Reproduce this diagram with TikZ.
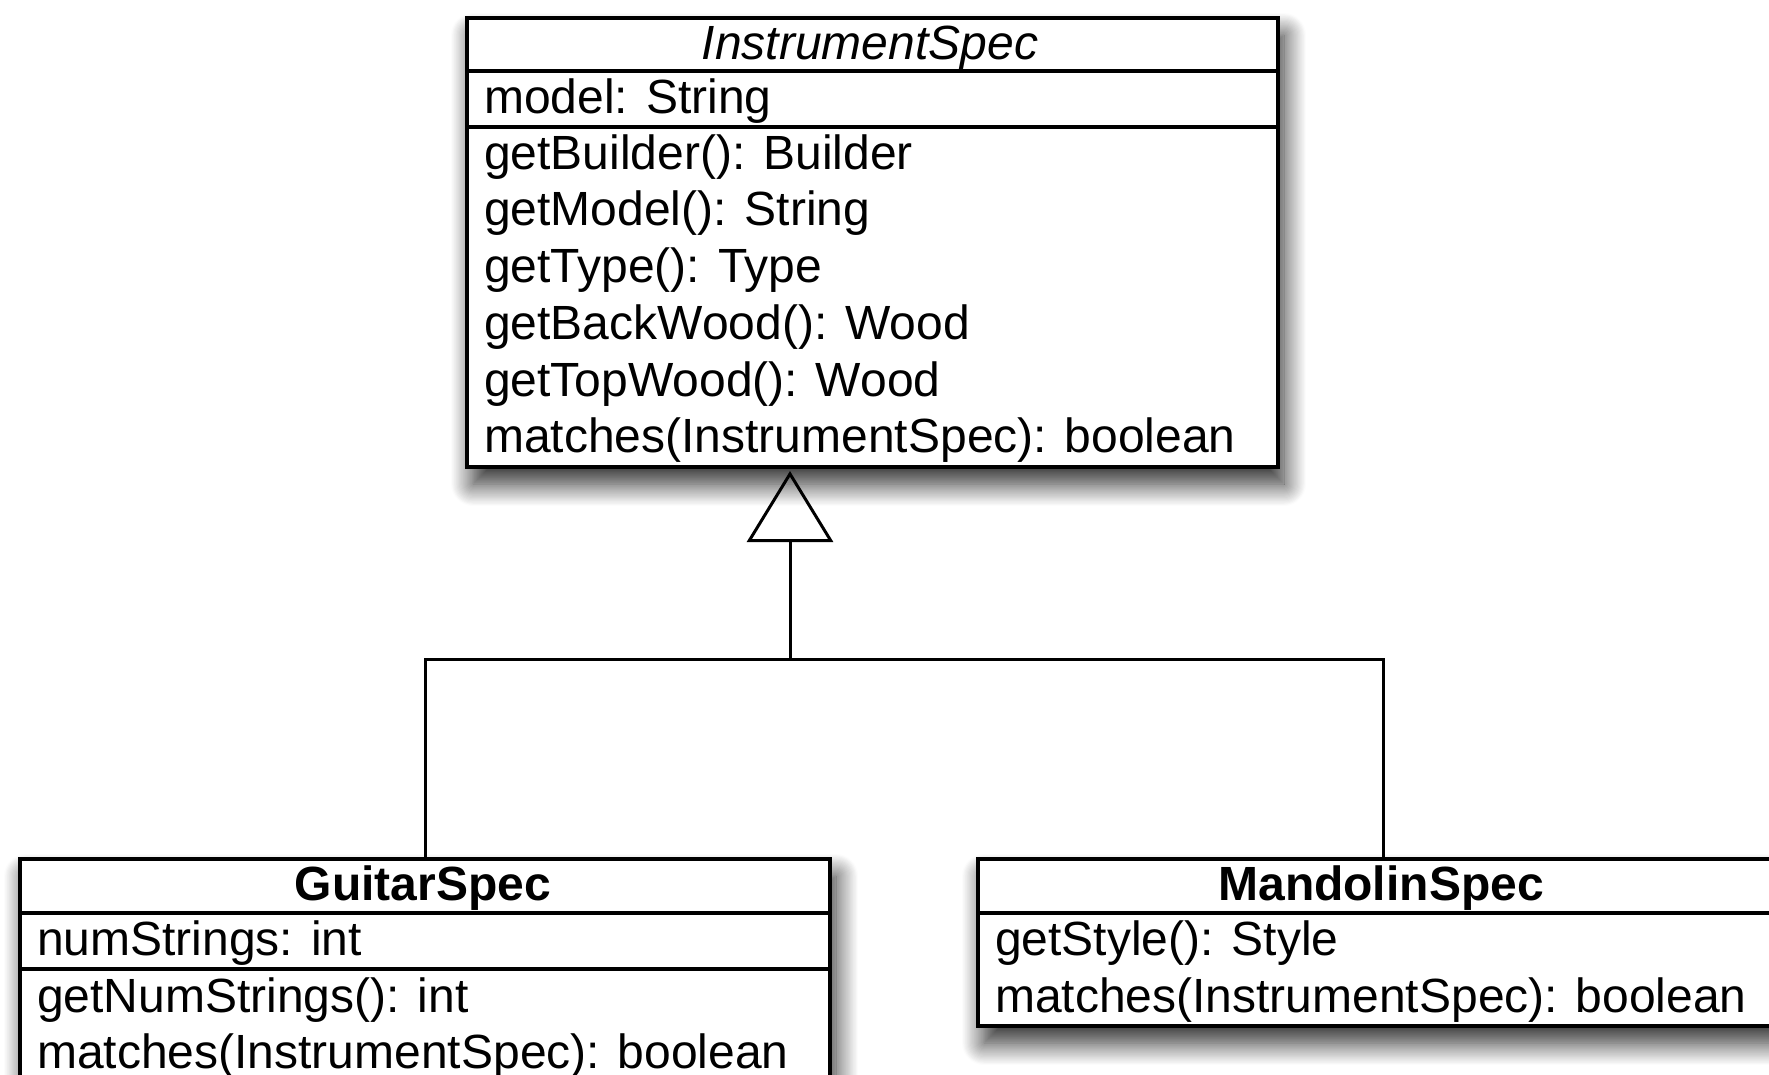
\documentclass[tikz,border=0pt]{standalone}
\usepackage{fontspec}
\setmainfont{Liberation Sans}
\usetikzlibrary{arrows.meta,shadows.blur}
\tikzset{
  classbox/.style={draw, line width=4pt, fill=white, rectangle, inner sep=0pt, anchor=north west,
    blur shadow={shadow xshift=6pt, shadow yshift=-17pt, shadow blur radius=22pt, shadow blur steps=20, shadow opacity=85}},
  divider/.style={line width=3.5pt},
  txt/.style={anchor=base west, inner sep=0pt, font=\fontsize{48}{56}\selectfont},
  ttl/.style={anchor=base, inner sep=0pt, font=\fontsize{48}{56}\selectfont},
  link/.style={line width=3pt},
}
\begin{document}
\begin{tikzpicture}[x=1pt, y=-1pt]
\useasboundingbox (0,0) rectangle (1769,1075);
\clip (0,0) rectangle (1769,1075);

% InstrumentSpec
\node[classbox, minimum width=811pt, minimum height=449pt] (inst) at (465,16) {};
\draw[divider] (465,71) -- (1276,71);
\draw[divider] (465,127) -- (1276,127);
\node[ttl] (instT) at (870,60) {\itshape InstrumentSpec};
\node[txt] (instA1) at (484,114) {model: String};
\node[txt] (instM1) at (484,170) {getBuilder(): Builder};
\node[txt] (instM2) at (484,226) {getModel(): String};
\node[txt] (instM3) at (484,283) {getType(): Type};
\node[txt] (instM4) at (484,339) {getBackWood(): Wood};
\node[txt] (instM5) at (484,396) {getTopWood(): Wood};
\node[txt] (instM6) at (484,452) {matches(InstrumentSpec): boolean};

% GuitarSpec
\node[classbox, minimum width=810pt, minimum height=260pt] (guitar) at (18,857) {};
\draw[divider] (18,913) -- (828,913);
\draw[divider] (18,969) -- (828,969);
\node[ttl] (guitarT) at (423,900) {\bfseries GuitarSpec};
\node[txt] (guitarA1) at (37,955) {numStrings: int};
\node[txt] (guitarM1) at (37,1012) {getNumStrings(): int};
\node[txt] (guitarM2) at (37,1068) {matches(InstrumentSpec): boolean};

% MandolinSpec
\node[classbox, minimum width=810pt, minimum height=167pt] (mando) at (976,857) {};
\draw[divider] (976,913) -- (1786,913);
\node[ttl] (mandoT) at (1381,900) {\bfseries MandolinSpec};
\node[txt] (mandoM1) at (995,955) {getStyle(): Style};
\node[txt] (mandoM2) at (995,1012) {matches(InstrumentSpec): boolean};

% generalization
\coordinate (junc) at (790,659);
\coordinate (apex) at (790,471);
\draw[link] (guitar.north) |- (junc) -| (mando.north);
\draw[link, -{Triangle[open, length=71pt, width=86pt]}] (junc) -- (apex);
\end{tikzpicture}
\end{document}
